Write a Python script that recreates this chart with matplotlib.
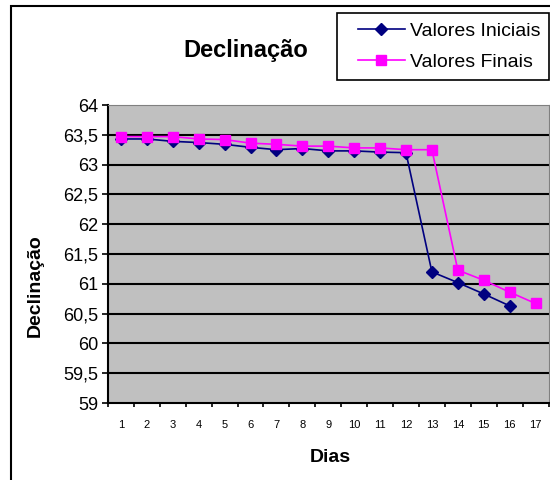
from matplotlib import pyplot as plt
from matplotlib.patches import Rectangle
from matplotlib.ticker import FixedLocator

# data
dias = [1, 2, 3, 4, 5, 6, 7, 8, 9, 10, 11, 12, 13, 14, 15, 16, 17]
valores_iniciais = [63.43, 63.43, 63.39, 63.37, 63.34, 63.29, 63.25, 63.27,
                    63.23, 63.23, 63.21, 63.20, 61.20, 61.02, 60.83, 60.63]
valores_finais = [63.47, 63.47, 63.47, 63.43, 63.42, 63.36, 63.34, 63.31,
                  63.31, 63.28, 63.28, 63.25, 63.25, 61.23, 61.06, 60.86, 60.67]
y_ticks = [59, 59.5, 60, 60.5, 61, 61.5, 62, 62.5, 63, 63.5, 64]
y_labels = ['59', '59,5', '60', '60,5', '61', '61,5', '62', '62,5', '63', '63,5', '64']

#colours
azul = '#000080'
rosa = '#FF00FF'
cinza = '#C0C0C0'

plt.rcParams['font.family'] = ['Liberation Sans', 'DejaVu Sans']

W, H = 550, 480
fig = plt.figure(figsize=(5.5, 4.8), dpi=100)
fig.set_facecolor('white')

# plot area in pixels of the picture
left, right, top, bottom = 108, 548.5, 105, 403
ax = fig.add_axes([left / W, 1 - bottom / H, (right - left) / W, (bottom - top) / H])
ax.set_facecolor(cinza)

ax.set_xlim(0.5, 17.5)
ax.set_ylim(59, 64)

ax.set_yticks(y_ticks)
ax.set_yticklabels(y_labels, fontsize=13)
ax.tick_params(axis='y', direction='out', length=4, width=1.2, pad=3)

ax.set_xticks(dias)
ax.set_xticklabels([str(d) for d in dias], fontsize=8)
ax.tick_params(axis='x', which='major', length=0, pad=12)
ax.xaxis.set_minor_locator(FixedLocator([d - 0.5 for d in dias] + [17.5]))
ax.tick_params(axis='x', which='minor', direction='out', length=3, width=1.2)

for v in y_ticks[1:-1]:
    ax.axhline(v, color='black', linewidth=1.5, zorder=1)

ax.spines['left'].set_linewidth(1.5)
ax.spines['bottom'].set_linewidth(1.5)
ax.spines['top'].set_color('#808080')
ax.spines['right'].set_color('#808080')

l1, = ax.plot(dias[:len(valores_iniciais)], valores_iniciais, color=azul, marker='D',
              markersize=5.8, linewidth=1.2, zorder=3, label='Valores Iniciais')
l2, = ax.plot(dias, valores_finais, color=rosa, marker='s', markersize=7.3,
              linewidth=1.2, zorder=4, label='Valores Finais')

# titles
fig.text(246 / W, 1 - 51 / H, 'Declinação', ha='center', va='center',
         fontsize=17, fontweight='bold')
fig.text(330 / W, 1 - 457 / H, 'Dias', ha='center', va='center',
         fontsize=14, fontweight='bold')
fig.text(35 / W, 1 - 286 / H, 'Declinação', ha='center', va='center',
         fontsize=14, fontweight='bold', rotation=90)

# outer chart frame
fig.patches.append(Rectangle((11 / W, -0.1), 1.2, (H - 6) / H + 0.1,
                             transform=fig.transFigure, fill=False,
                             edgecolor='black', linewidth=1.5))

# legend box
fig.patches.append(Rectangle((337 / W, 1 - 80 / H), (549 - 337) / W, 67 / H,
                             transform=fig.transFigure, facecolor='white',
                             edgecolor='black', linewidth=1.2, zorder=5))
leg = fig.legend(handles=[l1, l2], loc='upper left',
                 bbox_to_anchor=(358 / W, 1 - 22 / H), frameon=False,
                 fontsize=14, handlelength=2.4, handletextpad=0.25,
                 labelspacing=0.72, borderpad=0, borderaxespad=0)
leg.set_zorder(6)

fig.savefig('out.png', dpi=100)
